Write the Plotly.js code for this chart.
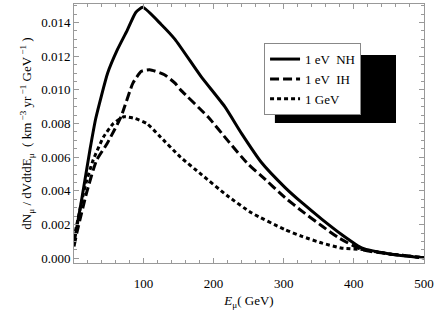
<!DOCTYPE html>
<html>
<head>
<meta charset="utf-8">
<script src="https://cdn.plot.ly/plotly-3.0.1.min.js"></script>
<style>
  body { margin: 0; background: white; }
  #chart { width: 436px; height: 328px; }
</style>
</head>
<body>
<div id="chart"></div>
<script>
// Muon spectrum, values
const eNH = [1, 12, 24, 32, 49, 63, 77, 89, 99, 125, 145, 182, 216, 240, 268, 302, 326, 355, 383, 412, 451, 500];
const valNH = [0.0009, 0.0035, 0.0065, 0.0083, 0.0110, 0.0124, 0.01355, 0.0146, 0.0149, 0.0139, 0.0130, 0.0108, 0.0090, 0.0074, 0.0057, 0.0042, 0.0033, 0.0023, 0.0014, 0.0006, 0.00026, 0.00003];

const eIH = [1, 5, 19, 33, 48, 68, 85, 97, 109, 130, 145, 153, 192, 220, 249, 268, 302, 326, 355, 379, 412, 451, 500];
const valIH = [0.0007, 0.0015, 0.0039, 0.0058, 0.0068, 0.0084, 0.0104, 0.0111, 0.0112, 0.0109, 0.0104, 0.0100, 0.0084, 0.0070, 0.0056, 0.0049, 0.0036, 0.0028, 0.0019, 0.0012, 0.0005, 0.00026, 0.00003];

const eGeV = [1, 17, 28, 43, 57, 72, 88, 105, 122, 153, 182, 220, 254, 302, 326, 355, 383, 412, 451, 500];
const valGeV = [0.0012, 0.0043, 0.0058, 0.0072, 0.0080, 0.0084, 0.0083, 0.0080, 0.0073, 0.0060, 0.0050, 0.0037, 0.0027, 0.0017, 0.0013, 0.0009, 0.0006, 0.00052, 0.00026, 0.00003];

const seriesNames = ['1 eV  NH', '1 eV  IH', '1 GeV'];

const font = 'Liberation Serif';

const traces = [
    { x: eNH, y: valNH, name: seriesNames[0], dash: 'solid' },
    { x: eIH, y: valIH, name: seriesNames[1], dash: '9px,4px' },
    { x: eGeV, y: valGeV, name: seriesNames[2], dash: '4px,3px' }
].map(s => ({
    x: s.x,
    y: s.y,
    type: 'scatter',
    mode: 'lines',
    name: s.name,
    line: { color: 'black', width: 3, dash: s.dash, shape: 'spline', smoothing: 0.5 }
}));

const axisStyle = {
    automargin: false,
    showline: true,
    linecolor: '#999',
    linewidth: 1,
    mirror: 'ticks',
    ticks: 'inside',
    ticklen: 5,
    tickcolor: '#999',
    showgrid: false,
    zeroline: false,
    tickfont: { family: font, size: 13, color: 'black' }
};

const layout = {
    width: 436,
    height: 328,
    margin: { l: 74, r: 12, t: 4, b: 65, autoexpand: false },
    paper_bgcolor: 'white',
    plot_bgcolor: 'white',
    font: { family: font, color: 'black' },
    xaxis: Object.assign({}, axisStyle, {
        range: [1, 500],
        tickvals: [100, 200, 300, 400, 500],
        ticklabelstandoff: 8,
        minor: { dtick: 20, tick0: 0, ticks: 'inside', ticklen: 3, tickcolor: '#999' },
        title: { text: '<i>E</i><sub>μ</sub>( GeV)', font: { family: font, size: 13 }, standoff: 6 }
    }),
    yaxis: Object.assign({}, axisStyle, {
        range: [-0.00028, 0.0151],
        tickvals: [0, 0.002, 0.004, 0.006, 0.008, 0.010, 0.012, 0.014],
        tickformat: '.3f',
        minor: { dtick: 0.0005, tick0: 0, ticks: 'inside', ticklen: 3, tickcolor: '#999' },
        title: {
            text: 'dN<sub>μ</sub> / dVdtdE<sub>μ</sub>  ( km<sup> −3</sup> yr<sup> −1</sup> GeV<sup> −1</sup> )',
            font: { family: font, size: 13 },
            standoff: 6
        }
    }),
    showlegend: true,
    legend: {
        x: 0.543,
        y: 0.849,
        xanchor: 'left',
        yanchor: 'top',
        bgcolor: 'white',
        bordercolor: '#888',
        borderwidth: 1,
        itemwidth: 30,
        font: { family: font, size: 13, color: 'black' }
    },
    // drop shadow behind the legend box
    shapes: [{
        type: 'rect',
        xref: 'paper',
        yref: 'paper',
        x0: 0.574, x1: 0.92,
        y0: 0.541, y1: 0.803,
        fillcolor: 'black',
        line: { width: 0 },
        layer: 'above'
    }],
    hovermode: false
};

Plotly.newPlot('chart', traces, layout, { displayModeBar: false, staticPlot: true });
</script>
</body>
</html>
